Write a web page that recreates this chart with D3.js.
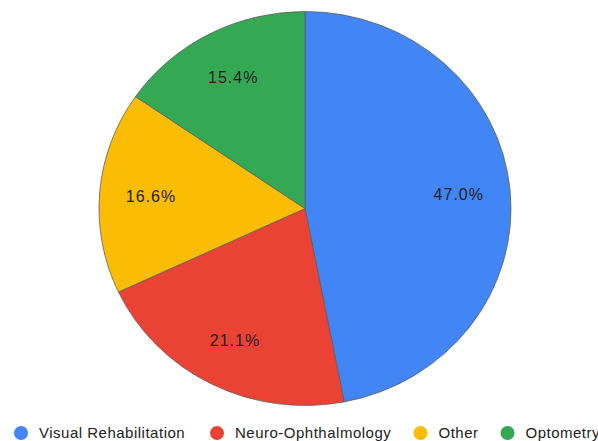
<!DOCTYPE html>
<html>
<head>
<meta charset="utf-8">
<script src="https://cdn.jsdelivr.net/npm/d3@7"></script>
<style>
  body { margin: 0; background: #fff; }
  svg { display: block; font-family: "Liberation Sans", Arial, sans-serif; }
</style>
</head>
<body>
<script>
const categories = ["Visual Rehabilitation", "Neuro-Ophthalmology", "Other", "Optometry"];
const values = [47.0, 21.1, 16.6, 15.4];
const colors = ["#4285f4", "#ea4335", "#fbbc04", "#34a853"];

const w = 598;
const h = 441;
const cx = 305, cy = 208.5;
const rx = 206, ry = 197;

const svg = d3.select("body")
  .append("svg")
  .attr("width", w)
  .attr("height", h);

const data = categories.map((c, i) => ({ name: c, value: values[i], color: colors[i] }));

const pie = d3.pie().sort(null).value(d => d.value);
const arcs = pie(data);

const arc = d3.arc().innerRadius(0).outerRadius(rx);
const labelArc = d3.arc().innerRadius(rx * 0.75).outerRadius(rx * 0.75);

const g = svg.append("g")
  .attr("transform", `translate(${cx}, ${cy}) scale(1, ${ry / rx})`);

g.selectAll("path")
  .data(arcs)
  .enter()
  .append("path")
  .attr("d", arc)
  .attr("fill", d => d.data.color)
  .attr("stroke", "#5f5f5f")
  .attr("stroke-width", 0.8);

// slice labels
svg.selectAll("text.pct")
  .data(arcs)
  .enter()
  .append("text")
  .attr("class", "pct")
  .attr("x", d => cx + labelArc.centroid(d)[0])
  .attr("y", d => cy + labelArc.centroid(d)[1] * ry / rx)
  .attr("text-anchor", "middle")
  .attr("dy", "0.35em")
  .attr("font-size", 16)
  .attr("letter-spacing", 1)
  .attr("fill", "#222")
  .text(d => d.data.value.toFixed(1) + "%");

// legend
const legendX = [21, 217, 420.5, 507.5];
const legend = svg.selectAll("g.legend")
  .data(data)
  .enter()
  .append("g")
  .attr("class", "legend")
  .attr("transform", (d, i) => `translate(${legendX[i]}, 433)`);

legend.append("circle")
  .attr("r", 7)
  .attr("fill", d => d.color);

legend.append("text")
  .attr("x", 18)
  .attr("dy", "0.35em")
  .attr("font-size", 15)
  .attr("letter-spacing", 0.5)
  .attr("fill", "#222")
  .text(d => d.name);
</script>
</body>
</html>
